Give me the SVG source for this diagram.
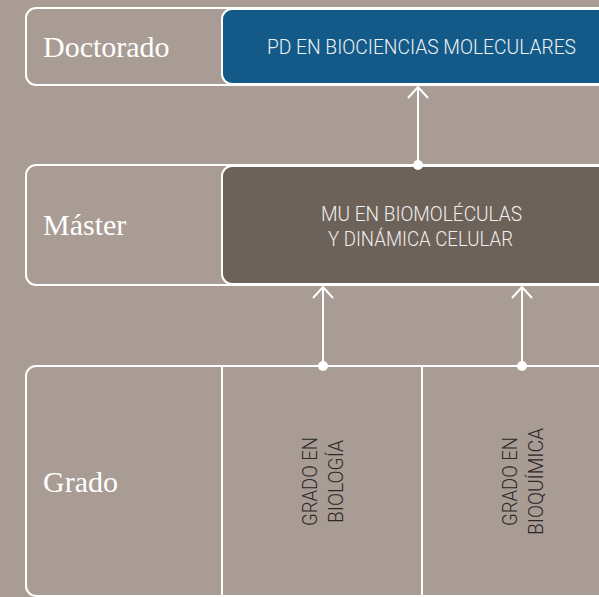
<svg xmlns="http://www.w3.org/2000/svg" width="599" height="597" viewBox="0 0 599 597">
<defs>
<style>
.row{fill:none;stroke:#fff;stroke-width:2}
.lbl{font-family:"Liberation Serif","Times New Roman",serif;font-size:30px;fill:#fff}
.box{stroke:#fff;stroke-width:2}
.bt{font-family:Roboto,"Liberation Sans",sans-serif;font-weight:300;font-size:20.5px;fill:#eef2f5;text-anchor:middle}
.vt{font-family:Roboto,"Liberation Sans",sans-serif;font-weight:300;font-size:21px;fill:#2b2826;text-anchor:middle}
.con{stroke:#fff;stroke-width:2;fill:none}
.dot{fill:#fff}
</style>
<marker id="ah" viewBox="0 0 14 24" refX="13" refY="12" markerWidth="14" markerHeight="24" markerUnits="userSpaceOnUse" orient="auto">
<path d="M2,2 L13,12 L2,22" fill="none" stroke="#fff" stroke-width="2"/>
</marker>
</defs>
<rect width="599" height="597" fill="#a89c94"/>
<g id="doctorado">
<rect class="row" x="26" y="8" width="600" height="77" rx="10"/>
<text class="lbl" x="43" y="57">Doctorado</text>
</g>
<g id="pd">
<rect class="box" x="222" y="9" width="400" height="75" rx="10" fill="#145a88"/>
<text class="bt" x="421.5" y="54" textLength="309" lengthAdjust="spacingAndGlyphs">PD EN BIOCIENCIAS MOLECULARES</text>
</g>
<g id="master">
<rect class="row" x="26" y="165" width="600" height="120" rx="10"/>
<text class="lbl" x="43" y="235">Máster</text>
</g>
<g id="mu">
<rect class="box" x="222" y="166" width="400" height="118" rx="10" fill="#6d6259"/>
<text class="bt" x="421.5" y="221" font-size="21" textLength="201" lengthAdjust="spacingAndGlyphs" style="fill:#f1efed">MU EN BIOMOLÉCULAS</text>
<text class="bt" x="420.5" y="246" font-size="21" textLength="185" lengthAdjust="spacingAndGlyphs" style="fill:#f1efed">Y DINÁMICA CELULAR</text>
</g>
<g id="grado">
<rect class="row" x="26" y="366" width="600" height="230" rx="10"/>
<text class="lbl" x="43" y="492">Grado</text>
</g>
<g id="biologia">
<line class="con" x1="222" y1="366" x2="222" y2="597"/>
<text class="vt" transform="translate(317,481.5) rotate(-90)" textLength="89" lengthAdjust="spacingAndGlyphs">GRADO EN</text>
<text class="vt" transform="translate(343,481.5) rotate(-90)" textLength="83" lengthAdjust="spacingAndGlyphs">BIOLOGÍA</text>
</g>
<g id="bioquimica">
<line class="con" x1="422" y1="366" x2="422" y2="597"/>
<text class="vt" transform="translate(517,481.5) rotate(-90)" textLength="89" lengthAdjust="spacingAndGlyphs">GRADO EN</text>
<text class="vt" transform="translate(543,481.5) rotate(-90)" textLength="107" lengthAdjust="spacingAndGlyphs">BIOQUÍMICA</text>
</g>
<g id="connectors">
<line class="con" x1="418" y1="165" x2="418" y2="87" marker-end="url(#ah)"/>
<circle class="dot" cx="418" cy="165" r="5"/>
<line class="con" x1="323" y1="366" x2="323" y2="287" marker-end="url(#ah)"/>
<circle class="dot" cx="323" cy="366" r="5"/>
<line class="con" x1="522" y1="366" x2="522" y2="287" marker-end="url(#ah)"/>
<circle class="dot" cx="522" cy="366" r="5"/>
</g>
</svg>
